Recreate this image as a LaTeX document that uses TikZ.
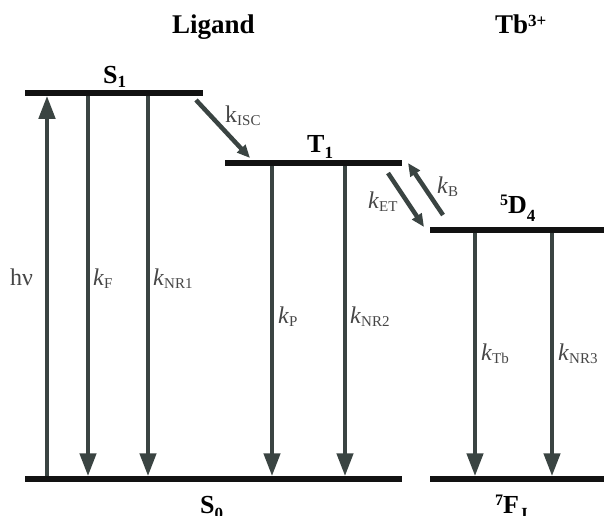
\documentclass[tikz,border=0pt]{standalone}
\usepackage{fontspec}
\setmainfont{Liberation Serif}
\usetikzlibrary{arrows.meta}
\definecolor{arrowgray}{RGB}{58,68,66}
\definecolor{levelblack}{RGB}{18,18,18}
\definecolor{labgray}{RGB}{70,70,70}
\newcommand{\kit}[1]{\textit{k}\raisebox{-3pt}{\fontsize{15}{16}\selectfont #1}}
\newcommand{\kup}[1]{k\raisebox{-3pt}{\fontsize{15}{16}\selectfont #1}}
\begin{document}
\begin{tikzpicture}[x=1pt,y=-1pt,
  level/.style={line width=5.5pt,levelblack},
  trans/.style={line width=4.5pt,arrowgray,-{Triangle[length=23pt,width=16pt]}},
  diag/.style={line width=4.5pt,arrowgray,-{Triangle[length=13pt,width=11pt]}},
  rate/.style={inner sep=0pt,anchor=base west,labgray,font=\fontsize{24}{26}\selectfont},
  title/.style={inner sep=0pt,anchor=base west,font=\fontsize{27}{30}\selectfont\bfseries},
  lvl/.style={inner sep=0pt,anchor=base west,font=\fontsize{26}{30}\selectfont\bfseries}]
\useasboundingbox (0,0) rectangle (604,515);
% arrow end points
\coordinate (hvA) at (47,479);   \coordinate (hvB) at (47,95.75);
\coordinate (kFA) at (88,93);    \coordinate (kFB) at (88,476.25);
\coordinate (kN1A) at (148,93);  \coordinate (kN1B) at (148,476.25);
\coordinate (kPA) at (272,163);  \coordinate (kPB) at (272,476.25);
\coordinate (kN2A) at (345,163); \coordinate (kN2B) at (345,476.25);
\coordinate (kTbA) at (475,230); \coordinate (kTbB) at (475,476.25);
\coordinate (kN3A) at (552,230); \coordinate (kN3B) at (552,476.25);
\coordinate (iscA) at (196,100); \coordinate (iscB) at (250,158);
\coordinate (etA) at (388,173);  \coordinate (etB) at (424,227);
\coordinate (bA) at (443,215);   \coordinate (bB) at (408,163);
% transitions
\draw[trans] (hvA) -- (hvB);
\draw[trans] (kFA) -- (kFB);
\draw[trans] (kN1A) -- (kN1B);
\draw[trans] (kPA) -- (kPB);
\draw[trans] (kN2A) -- (kN2B);
\draw[trans] (kTbA) -- (kTbB);
\draw[trans] (kN3A) -- (kN3B);
\draw[diag] (iscA) -- (iscB);
\draw[diag] (etA) -- (etB);
\draw[diag] (bA) -- (bB);
% levels
\coordinate (S1l) at (25,93);   \coordinate (S1r) at (203,93);
\coordinate (T1l) at (225,163); \coordinate (T1r) at (402,163);
\coordinate (D4l) at (430,230); \coordinate (D4r) at (604,230);
\coordinate (S0l) at (25,479);  \coordinate (S0r) at (402,479);
\coordinate (FJl) at (430,479); \coordinate (FJr) at (604,479);
\draw[level] (S1l) -- (S1r);
\draw[level] (T1l) -- (T1r);
\draw[level] (D4l) -- (D4r);
\draw[level] (S0l) -- (S0r);
\draw[level] (FJl) -- (FJr);
% titles
\node[title] (lig) at (172,33) {Ligand};
\node[title] (tb) at (495,33) {Tb\raisebox{7pt}{\fontsize{17}{18}\selectfont 3+}};
% level labels
\node[lvl] (ls1) at (103,83) {S\raisebox{-4pt}{\fontsize{17}{18}\selectfont 1}};
\node[lvl] (lt1) at (307,152) {T\raisebox{-6pt}{\fontsize{17}{18}\selectfont 1}};
\node[lvl] (ld4) at (500,213) {\raisebox{8pt}{\fontsize{16}{17}\selectfont 5}D\raisebox{-8pt}{\fontsize{17}{18}\selectfont 4}};
\node[lvl] (ls0) at (200,513) {S\raisebox{-6pt}{\fontsize{17}{18}\selectfont 0}};
\node[lvl] (lfj) at (495,513) {\raisebox{8pt}{\fontsize{16}{17}\selectfont 7}F\raisebox{-6pt}{\fontsize{17}{18}\selectfont J}};
% rate labels
\node[rate] (lhv) at (10,285) {hν};
\node[rate] (lkf) at (93,285) {\kit{F}};
\node[rate] (lkn1) at (153,285) {\kit{NR1}};
\node[rate] (lkp) at (278,323) {\kit{P}};
\node[rate] (lkn2) at (350,323) {\kit{NR2}};
\node[rate] (lktb) at (481,360) {\kit{Tb}};
\node[rate] (lkn3) at (558,360) {\kit{NR3}};
\node[rate] (lkisc) at (225,122) {\kup{ISC}};
\node[rate] (lket) at (368,208) {\kit{ET}};
\node[rate] (lkb) at (437,193) {\kit{B}};
\end{tikzpicture}
\end{document}
